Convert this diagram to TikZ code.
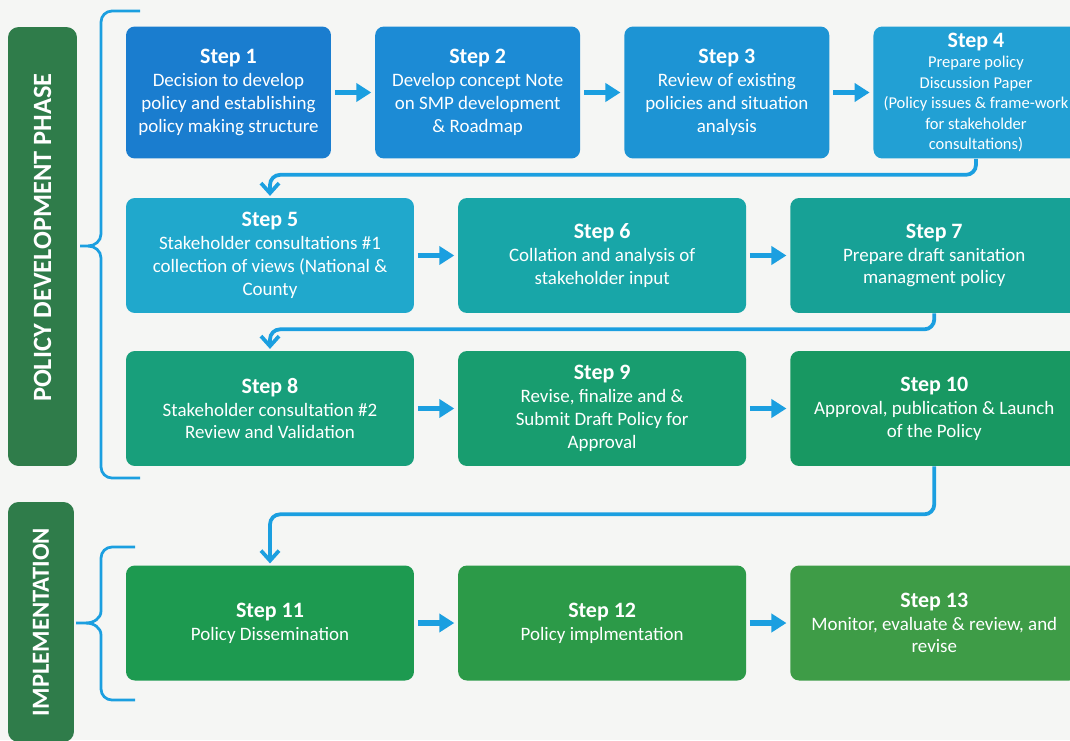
\documentclass[tikz,border=0pt]{standalone}
\usepackage{fontspec}
\setmainfont{Carlito}
\usepackage{xcolor}
\usepackage{tikz}
\usetikzlibrary{positioning,arrows.meta}
\definecolor{deepblue}{HTML}{1A7DCF}
\definecolor{midblue}{HTML}{1C8BD5}
\definecolor{skyblue}{HTML}{1D94D4}
\definecolor{lightblue}{HTML}{22A0D4}
\definecolor{cyanblue}{HTML}{20A8CC}
\definecolor{tealblue}{HTML}{18A6A8}
\definecolor{teal}{HTML}{17A196}
\definecolor{seagreen}{HTML}{189F7B}
\definecolor{jadegreen}{HTML}{189D6F}
\definecolor{emerald}{HTML}{189862}
\definecolor{leafgreen}{HTML}{1D9A50}
\definecolor{grassgreen}{HTML}{2C9A48}
\definecolor{mossgreen}{HTML}{3E9C47}
\definecolor{phasegreen}{HTML}{2F7C4A}
\definecolor{linkblue}{HTML}{1B9FE0}
\definecolor{paper}{HTML}{F5F6F4}

\begin{document}
\begin{tikzpicture}[
  x=0.02cm, y=-0.02cm,
  node distance=0.87cm,
  stepbox/.style={rectangle, rounded corners=5pt, text=white, align=center, inner sep=2pt,
    font=\fontsize{10.8}{13}\selectfont},
  topbox/.style={stepbox, minimum width=4.1cm, minimum height=2.64cm},
  rowbox/.style={stepbox, minimum width=5.76cm, minimum height=2.3cm},
  phase/.style={rectangle, rounded corners=6pt, fill=phasegreen, text=white, rotate=90,
    font=\bfseries\fontsize{15}{18}\selectfont},
  arr/.style={-{Triangle[length=0.3cm,width=0.36cm]}, line width=0.11cm, draw=linkblue,
    shorten <=2pt, shorten >=2pt},
  turn/.style={-{Straight Barb[length=0.2cm,width=0.36cm]}, line width=0.075cm, draw=linkblue,
    rounded corners=0.2cm, shorten >=1pt},
  brace/.style={draw=linkblue, line width=0.055cm}
]
  \useasboundingbox[fill=paper] (0,0) rectangle (1070,740);
  \newcommand{\stephead}[1]{{\fontsize{12.5}{14}\selectfont\bfseries #1}}

  % phase labels
  \node[phase, minimum width=8.78cm, minimum height=1.38cm] (policy) at (42.5,246.5) {\hspace*{0.35cm}POLICY DEVELOPMENT PHASE};
  \node[phase, minimum width=4.8cm, minimum height=1.32cm, font=\bfseries\fontsize{14}{17}\selectfont] (impl) at (41,622) {IMPLEMENTATION};

  % row 1
  \node[topbox, fill=deepblue] (s1) at (228.5,92.5) {\stephead{Step 1}\\Decision to develop\\policy and establishing\\policy making structure};
  \node[topbox, fill=midblue, right=of s1] (s2) {\stephead{Step 2}\\Develop concept Note\\on SMP development\\\& Roadmap};
  \node[topbox, fill=skyblue, right=of s2] (s3) {\stephead{Step 3}\\Review of existing\\policies and situation\\analysis};
  \node[topbox, fill=lightblue, right=of s3, font=\fontsize{9.4}{11.6}\selectfont] (s4) {\stephead{Step 4}\\Prepare policy\\Discussion Paper\\(Policy issues \& frame-work\\for stakeholder\\consultations)};

  % row 2
  \node[rowbox, fill=cyanblue] (s5) at (270,255.5) {\stephead{Step 5}\\Stakeholder consultations \#1\\collection of views (National \&\\County};
  \node[rowbox, fill=tealblue, right=of s5] (s6) {\stephead{Step 6}\\Collation and analysis of\\stakeholder input};
  \node[rowbox, fill=teal, right=of s6] (s7) {\stephead{Step 7}\\Prepare draft sanitation\\managment policy};

  % row 3
  \node[rowbox, fill=seagreen] (s8) at (270,408.5) {\stephead{Step 8}\\Stakeholder consultation \#2\\Review and Validation};
  \node[rowbox, fill=jadegreen, right=of s8] (s9) {\stephead{Step 9}\\Revise, finalize and \&\\Submit Draft Policy for\\Approval};
  \node[rowbox, fill=emerald, right=of s9] (s10) {\stephead{Step 10}\\Approval, publication \& Launch\\of the Policy};

  % row 4
  \node[rowbox, fill=leafgreen] (s11) at (270,623) {\stephead{Step 11}\\Policy Dissemination};
  \node[rowbox, fill=grassgreen, right=of s11] (s12) {\stephead{Step 12}\\Policy implmentation};
  \node[rowbox, fill=mossgreen, right=of s12] (s13) {\stephead{Step 13}\\Monitor, evaluate \& review, and\\revise};

  % arrows
  \draw[arr] (s1) -- (s2);
  \draw[arr] (s2) -- (s3);
  \draw[arr] (s3) -- (s4);
  \draw[arr] (s5) -- (s6);
  \draw[arr] (s6) -- (s7);
  \draw[arr] (s8) -- (s9);
  \draw[arr] (s9) -- (s10);
  \draw[arr] (s11) -- (s12);
  \draw[arr] (s12) -- (s13);
  \draw[turn] (s4.south) -- ++(0,16) -| (s5.north);
  \draw[turn] (s7.south) -- ++(0,16) -| (s8.north);
  \draw[turn] (s10.south) -- ++(0,48) -| (s11.north);

  % braces
  \draw[brace] (140,11) -- (112,11) to[out=180,in=90] (101,22) -- (101,234)
    to[out=-90,in=0] (88,246) -- (80,246);
  \draw[brace] (88,246) to[out=0,in=90] (101,258) -- (101,467)
    to[out=-90,in=180] (112,478) -- (140,478);
  \draw[brace] (135,547) -- (112,547) to[out=180,in=90] (101,558) -- (101,611)
    to[out=-90,in=0] (86,623) -- (76,623);
  \draw[brace] (86,623) to[out=0,in=90] (101,635) -- (101,689)
    to[out=-90,in=180] (112,700) -- (135,700);
\end{tikzpicture}
\end{document}
